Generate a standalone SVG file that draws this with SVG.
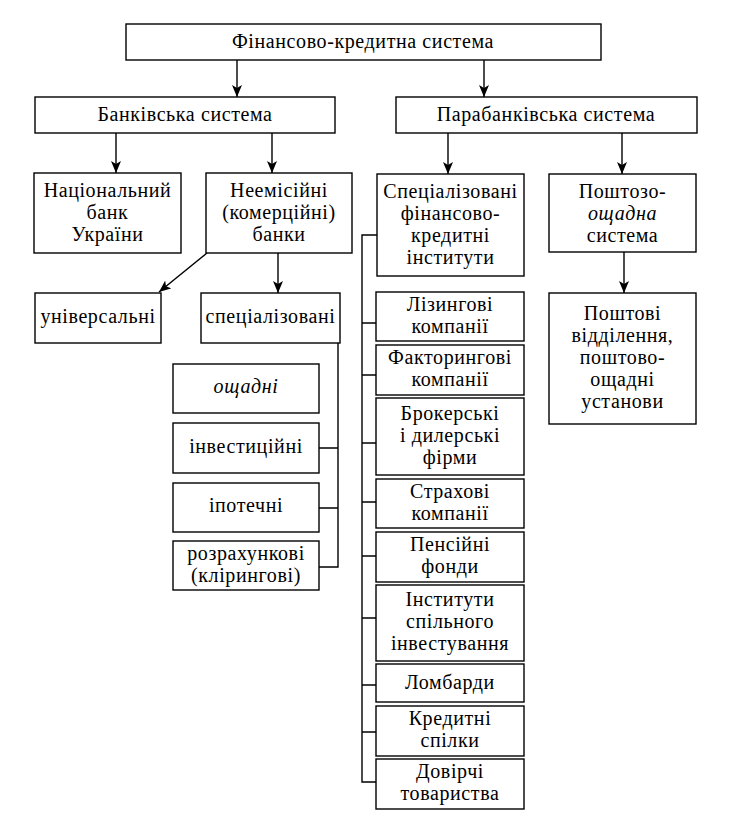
<svg xmlns="http://www.w3.org/2000/svg" width="731" height="818" viewBox="0 0 731 818">
<style>
.b{fill:#fff;stroke:#000;stroke-width:1.4}
.t{font-family:"Liberation Serif","DejaVu Serif",serif;font-size:20px;letter-spacing:0.6px;text-anchor:middle;fill:#000}
.i{font-style:italic}
.c{fill:none;stroke:#000;stroke-width:1.4}
</style>
<defs>
<marker id="ah" markerWidth="12" markerHeight="10" refX="12" refY="5" orient="auto" markerUnits="userSpaceOnUse">
<path d="M0,0 L12,5 L0,10 L3,5 Z" fill="#000"/>
</marker>
</defs>
<rect width="731" height="818" fill="#fff"/>
<g id="connectors">
<line class="c" x1="237" y1="60" x2="237" y2="97" marker-end="url(#ah)"/>
<line class="c" x1="484" y1="60" x2="484" y2="97" marker-end="url(#ah)"/>
<line class="c" x1="116" y1="133" x2="116" y2="173" marker-end="url(#ah)"/>
<line class="c" x1="272" y1="133" x2="272" y2="173" marker-end="url(#ah)"/>
<line class="c" x1="448" y1="133" x2="448" y2="174" marker-end="url(#ah)"/>
<line class="c" x1="622" y1="133" x2="622" y2="174" marker-end="url(#ah)"/>
<line class="c" x1="207" y1="253" x2="159" y2="292" marker-end="url(#ah)"/>
<line class="c" x1="278" y1="253" x2="278" y2="293" marker-end="url(#ah)"/>
<line class="c" x1="624" y1="252" x2="624" y2="293" marker-end="url(#ah)"/>
<path class="c" d="M338,343 V567 H319 M319,448 H338 M319,508 H338"/>
<path class="c" d="M377,235 H362 V782 H376 M362,323 H376 M362,375 H376 M362,443 H376 M362,502 H376 M362,556 H376 M362,618 H376 M362,685 H376 M362,732 H376"/>
</g>
<g id="n-fks"><rect class="b" x="126" y="24" width="475" height="36"/><text class="t" x="363" y="48">Фінансово-кредитна система</text></g>
<g id="n-bank"><rect class="b" x="35" y="97" width="300" height="36"/><text class="t" x="185" y="121">Банківська система</text></g>
<g id="n-para"><rect class="b" x="396" y="97" width="301" height="36"/><text class="t" x="546" y="121">Парабанківська система</text></g>
<g id="n-nbu"><rect class="b" x="34" y="173" width="147" height="80"/><text class="t" x="107.5" y="197">Національний</text><text class="t" x="107.5" y="219">банк</text><text class="t" x="107.5" y="241">України</text></g>
<g id="n-neem"><rect class="b" x="206" y="173" width="146" height="80"/><text class="t" x="279" y="197">Неемісійні</text><text class="t" x="279" y="219">(комерційні)</text><text class="t" x="279" y="241">банки</text></g>
<g id="n-sfki"><rect class="b" x="377" y="174" width="147" height="102"/><text class="t" x="450.5" y="198">Спеціалізовані</text><text class="t" x="450.5" y="220">фінансово-</text><text class="t" x="450.5" y="242">кредитні</text><text class="t" x="450.5" y="264">інститути</text></g>
<g id="n-posht"><rect class="b" x="549" y="174" width="147" height="78"/><text class="t" x="622.5" y="198">Поштозо-</text><text class="t i" x="622.5" y="220">ощадна</text><text class="t" x="622.5" y="242">система</text></g>
<g id="n-poshtvid"><rect class="b" x="549" y="293" width="147" height="131"/><text class="t" x="622.5" y="320">Поштові</text><text class="t" x="622.5" y="342">відділення,</text><text class="t" x="622.5" y="364">поштово-</text><text class="t" x="622.5" y="386">ощадні</text><text class="t" x="622.5" y="408">установи</text></g>
<g id="n-univ"><rect class="b" x="35" y="293" width="126" height="50"/><text class="t" x="98" y="323">універсальні</text></g>
<g id="n-spec"><rect class="b" x="201" y="293" width="139" height="50"/><text class="t" x="270.5" y="323">спеціалізовані</text></g>
<g id="n-oshch"><rect class="b" x="173" y="364" width="146" height="49"/><text class="t i" x="246" y="393">ощадні</text></g>
<g id="n-invest"><rect class="b" x="173" y="423" width="146" height="50"/><text class="t" x="246" y="453">інвестиційні</text></g>
<g id="n-ipot"><rect class="b" x="173" y="483" width="146" height="49"/><text class="t" x="246" y="512">іпотечні</text></g>
<g id="n-rozr"><rect class="b" x="173" y="541" width="146" height="49"/><text class="t" x="246" y="560">розрахункові</text><text class="t" x="246" y="582">(клірингові)</text></g>
<g id="n-liz"><rect class="b" x="376" y="292" width="148" height="49"/><text class="t" x="450" y="311">Лізингові</text><text class="t" x="450" y="333">компанії</text></g>
<g id="n-fakt"><rect class="b" x="376" y="345" width="148" height="50"/><text class="t" x="450" y="364">Факторингові</text><text class="t" x="450" y="386">компанії</text></g>
<g id="n-brok"><rect class="b" x="376" y="398" width="148" height="77"/><text class="t" x="450" y="420">Брокерські</text><text class="t" x="450" y="442">і дилерські</text><text class="t" x="450" y="464">фірми</text></g>
<g id="n-strah"><rect class="b" x="376" y="479" width="148" height="49"/><text class="t" x="450" y="498">Страхові</text><text class="t" x="450" y="520">компанії</text></g>
<g id="n-pens"><rect class="b" x="376" y="532" width="148" height="50"/><text class="t" x="450" y="551">Пенсійні</text><text class="t" x="450" y="573">фонди</text></g>
<g id="n-isi"><rect class="b" x="376" y="585" width="148" height="76"/><text class="t" x="450" y="606">Інститути</text><text class="t" x="450" y="628">спільного</text><text class="t" x="450" y="650">інвестування</text></g>
<g id="n-lomb"><rect class="b" x="376" y="664" width="148" height="38"/><text class="t" x="450" y="689">Ломбарди</text></g>
<g id="n-kred"><rect class="b" x="376" y="706" width="148" height="50"/><text class="t" x="450" y="725">Кредитні</text><text class="t" x="450" y="747">спілки</text></g>
<g id="n-dov"><rect class="b" x="376" y="759" width="148" height="50"/><text class="t" x="450" y="778">Довірчі</text><text class="t" x="450" y="800">товариства</text></g>
</svg>
